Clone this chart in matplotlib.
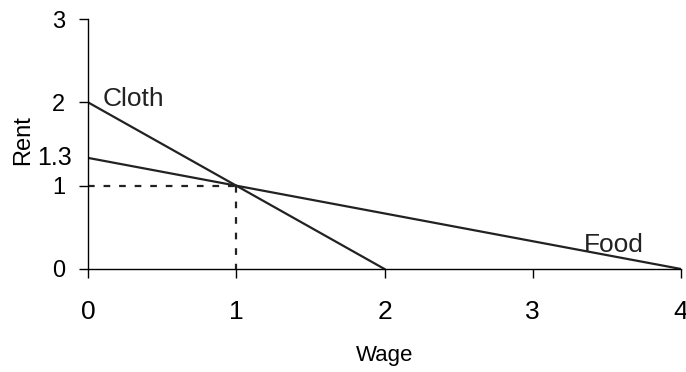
import matplotlib
matplotlib.use("Agg")
import matplotlib.pyplot as plt

plt.rcParams['font.family'] = ['Liberation Sans', 'DejaVu Sans']

# lines: wage on x, rent on y
cloth_wage = [0, 2]
cloth_rent = [2, 0]
food_wage = [0, 4]
food_rent = [4 / 3, 0]
eq_wage = 1
eq_rent = 1

xticks = [0, 1, 2, 3, 4]
yticks = [0, 1, 2, 3]

fig = plt.figure(figsize=(6.86, 3.72), dpi=100)
ax = fig.add_axes([0.1283, 0.2769, 0.8644, 0.672])

col = '#222222'
ax.plot(cloth_wage, cloth_rent, color=col, lw=1.6)
ax.plot(food_wage, food_rent, color=col, lw=1.6)
ax.plot([0, eq_wage], [eq_rent, eq_rent], color=col, lw=1.6, dashes=(3, 4))
ax.plot([eq_wage, eq_wage], [eq_rent, 0], color=col, lw=1.6, dashes=(3, 4))

ax.text(0.10, 1.96, 'Cloth', fontsize=19, color=col, va='baseline', ha='left')
ax.text(3.345, 0.205, 'Food', fontsize=19, color=col, va='baseline', ha='left')
ax.text(-0.108, 4 / 3, '1.3', fontsize=18, ha='right', va='center')

ax.set_xlim(0, 4)
ax.set_ylim(0, 3)
ax.set_xticks(xticks)
ax.set_yticks(yticks)
ax.tick_params(direction='out', length=6.5, width=1)
ax.tick_params(axis='y', labelsize=17, pad=10)
ax.tick_params(axis='x', labelsize=19, pad=16)
for s in ['top', 'right']:
    ax.spines[s].set_visible(False)
for s in ['left', 'bottom']:
    ax.spines[s].set_linewidth(1)

ax.set_xlabel('Wage', fontsize=16)
ax.xaxis.set_label_coords(0.5, -0.305)
ax.set_ylabel('Rent', fontsize=17)
ax.yaxis.set_label_coords(-0.091, 0.515)

plt.savefig('out.png', dpi=100)
